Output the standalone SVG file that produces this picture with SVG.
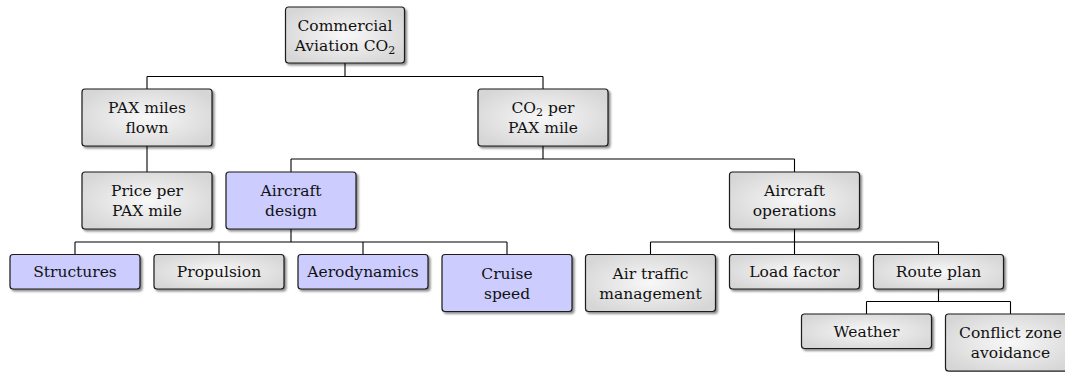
<svg xmlns="http://www.w3.org/2000/svg" width="1065" height="372" viewBox="0 0 1065 372">
<style>
.box{stroke:#1a1a1a;stroke-width:1.2;filter:url(#sh)}
.g{fill:url(#rg)}
.b{fill:#ccccff}
text{font-family:'DejaVu Serif','Liberation Serif',serif;font-size:15.5px;fill:#111;text-anchor:middle}
.sub{font-size:11px}
#connectors path{fill:none;stroke:#000;stroke-width:1.1}
</style>
<defs>
<radialGradient id="rg" cx="0.5" cy="0.5" r="0.6">
<stop offset="0" stop-color="#f8f8f8"/>
<stop offset="1" stop-color="#d6d6d6"/>
</radialGradient>
<filter id="sh" x="-10%" y="-20%" width="130%" height="150%">
<feDropShadow dx="2" dy="2" stdDeviation="1.3" flood-color="#000" flood-opacity="0.45"/>
</filter>
</defs>
<g id="connectors">
<path d="M345 63V76.5M147 76.5H543M147 76.5V89M543 76.5V89"/>
<path d="M147 146V172"/>
<path d="M543 146V159M291 159H794.5M291 159V172M794.5 159V172"/>
<path d="M291 229V242M75 242H507M75 242V254.5M219 242V254.5M363 242V254.5M507 242V254.5"/>
<path d="M794.5 229V242M650.5 242H938.5M650.5 242V254.5M794.5 242V254.5M938.5 242V254.5"/>
<path d="M938.5 289V301.5M866.5 301.5H1010.5M866.5 301.5V314M1010.5 301.5V314"/>
</g>
<g id="root"><rect class="box g" x="285.5" y="7" width="119" height="56" rx="3"/>
<text x="345" y="31">Commercial</text><text x="345" y="51">Aviation CO<tspan class="sub" dy="3">2</tspan></text></g>
<g id="pax"><rect class="box g" x="82" y="89" width="130" height="57" rx="3"/>
<text x="147" y="113.3">PAX miles</text><text x="147" y="133.3">flown</text></g>
<g id="co2"><rect class="box g" x="478" y="89" width="130" height="57" rx="3"/>
<text x="543" y="113.3">CO<tspan class="sub" dy="3">2</tspan><tspan dy="-3"> per</tspan></text><text x="543" y="133.3">PAX mile</text></g>
<g id="price"><rect class="box g" x="82" y="172" width="130" height="57" rx="3"/>
<text x="147" y="196.3">Price per</text><text x="147" y="216.3">PAX mile</text></g>
<g id="design"><rect class="box b" x="226" y="172" width="130" height="57" rx="3"/>
<text x="291" y="196.3">Aircraft</text><text x="291" y="216.3">design</text></g>
<g id="ops"><rect class="box g" x="729.5" y="172" width="130" height="57" rx="3"/>
<text x="794.5" y="196.3">Aircraft</text><text x="794.5" y="216.3">operations</text></g>
<g id="structures"><rect class="box b" x="10" y="254.5" width="130" height="34.5" rx="3"/>
<text x="75" y="277.3">Structures</text></g>
<g id="propulsion"><rect class="box g" x="154" y="254.5" width="130" height="34.5" rx="3"/>
<text x="219" y="277.3">Propulsion</text></g>
<g id="aero"><rect class="box b" x="298" y="254.5" width="130" height="34.5" rx="3"/>
<text x="363" y="277.3">Aerodynamics</text></g>
<g id="cruise"><rect class="box b" x="442" y="254.5" width="130" height="57" rx="3"/>
<text x="507" y="278.8">Cruise</text><text x="507" y="298.8">speed</text></g>
<g id="atm"><rect class="box g" x="585.5" y="254.5" width="130" height="57" rx="3"/>
<text x="650.5" y="278.8">Air traffic</text><text x="650.5" y="298.8">management</text></g>
<g id="load"><rect class="box g" x="729.5" y="254.5" width="130" height="34.5" rx="3"/>
<text x="794.5" y="277.3">Load factor</text></g>
<g id="route"><rect class="box g" x="873.5" y="254.5" width="130" height="34.5" rx="3"/>
<text x="938.5" y="277.3">Route plan</text></g>
<g id="weather"><rect class="box g" x="801.5" y="314" width="130" height="34.5" rx="3"/>
<text x="866.5" y="336.8">Weather</text></g>
<g id="conflict"><rect class="box g" x="945.5" y="314" width="130" height="57" rx="3"/>
<text x="1010.5" y="338.3">Conflict zone</text><text x="1010.5" y="358.3">avoidance</text></g>
</svg>
